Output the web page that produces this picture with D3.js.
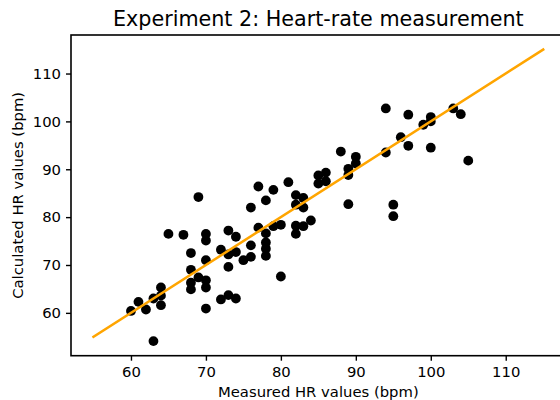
<!DOCTYPE html>
<html>
<head>
<meta charset="utf-8">
<script src="https://cdn.jsdelivr.net/npm/d3@7"></script>
<style>
  html, body { margin: 0; padding: 0; background: #fff; }
  svg { display: block; font-family: "DejaVu Sans", sans-serif; }
</style>
</head>
<body>
<div id="chart"></div>
<script>
// Measured vs calculated heart rate
const measured = [
  60, 61, 62, 63, 63, 64, 64, 64, 65, 67,
  68, 68, 68, 68, 69, 69, 70, 70, 70, 70,
  70, 70, 72, 72, 73, 73, 73, 73, 74, 74,
  74, 75, 76, 76, 76, 77, 77, 78, 78, 78,
  78, 78, 79, 79, 80, 80, 81, 82, 82, 82,
  82, 83, 83, 83, 84, 85, 85, 86, 86, 88,
  89, 89, 89, 90, 90, 94, 94, 95, 95, 96,
  97, 97, 99, 100, 100, 100, 103, 104, 105
];
const calculated = [
  60.4, 62.3, 60.7, 54.1, 63.0, 65.3, 63.6, 61.6, 76.5, 76.3,
  72.5, 69.0, 66.3, 64.9, 84.2, 67.4, 76.5, 75.1, 71.0, 66.8,
  65.3, 60.9, 73.2, 62.8, 77.2, 72.2, 69.6, 63.7, 75.9, 72.7,
  63.0, 71.0, 82.0, 74.1, 71.7, 86.4, 77.8, 83.5, 76.6, 74.7,
  73.4, 71.9, 85.7, 78.1, 78.4, 67.6, 87.3, 84.6, 82.6, 78.2,
  76.5, 84.0, 82.0, 78.1, 79.3, 88.7, 87.0, 89.3, 87.5, 93.7,
  90.1, 88.8, 82.7, 92.6, 91.2, 102.7, 93.5, 82.6, 80.2, 96.7,
  101.4, 94.9, 99.3, 100.9, 100.0, 94.5, 102.7, 101.5, 91.8
];
// identity reference line
const lineEnds = [55, 115];
const xTicks = [60, 70, 80, 90, 100, 110];
const yTicks = [60, 70, 80, 90, 100, 110];

const width = 560, height = 400;
const margin = { left: 71, top: 35 };
const plotW = 494.7, plotH = 320.7;

const svg = d3.select('#chart').append('svg')
  .attr('width', width)
  .attr('height', height);

const x = d3.scaleLinear().domain([52, 118]).range([margin.left, margin.left + plotW]);
const y = d3.scaleLinear().domain([51.05, 118.05]).range([margin.top + plotH, margin.top]);

const points = measured.map((m, i) => ({ m, c: calculated[i] }));

// scatter
svg.append('g')
  .selectAll('circle')
  .data(points)
  .join('circle')
  .attr('cx', d => x(d.m))
  .attr('cy', d => y(d.c))
  .attr('r', 4.9)
  .attr('fill', '#000');

// orange line on top of the dots
svg.append('line')
  .attr('x1', x(lineEnds[0]))
  .attr('y1', y(lineEnds[0]))
  .attr('x2', x(lineEnds[1]))
  .attr('y2', y(lineEnds[1]))
  .attr('stroke', '#ffa500')
  .attr('stroke-width', 2.5)
  .attr('stroke-linecap', 'square');

// axes frame (right edge runs off the canvas)
svg.append('rect')
  .attr('x', margin.left)
  .attr('y', margin.top)
  .attr('width', plotW)
  .attr('height', plotH)
  .attr('fill', 'none')
  .attr('stroke', '#000')
  .attr('stroke-width', 1.6);

const xAxis = d3.axisBottom(x).tickValues(xTicks).tickSize(5).tickPadding(6).tickSizeOuter(0);
const yAxis = d3.axisLeft(y).tickValues(yTicks).tickSize(5).tickPadding(5).tickSizeOuter(0);

const gx = svg.append('g')
  .attr('transform', `translate(0,${margin.top + plotH})`)
  .call(xAxis);
const gy = svg.append('g')
  .attr('transform', `translate(${margin.left},0)`)
  .call(yAxis);

[gx, gy].forEach(g => {
  g.select('.domain').remove();
  g.selectAll('.tick line').attr('stroke', '#000').attr('stroke-width', 1.4);
  g.selectAll('.tick text')
    .attr('fill', '#000')
    .style('font-family', '"DejaVu Sans", sans-serif')
    .style('font-size', '14.8px');
});

// labels
svg.append('text')
  .attr('x', margin.left + plotW / 2)
  .attr('y', 26)
  .attr('text-anchor', 'middle')
  .style('font-size', '20.7px')
  .text('Experiment 2: Heart-rate measurement');

svg.append('text')
  .attr('x', margin.left + plotW / 2)
  .attr('y', 397)
  .attr('text-anchor', 'middle')
  .style('font-size', '14.8px')
  .text('Measured HR values (bpm)');

svg.append('text')
  .attr('transform', `translate(23,${margin.top + plotH / 2}) rotate(-90)`)
  .attr('text-anchor', 'middle')
  .style('font-size', '14.8px')
  .text('Calculated HR values (bpm)');
</script>
</body>
</html>
